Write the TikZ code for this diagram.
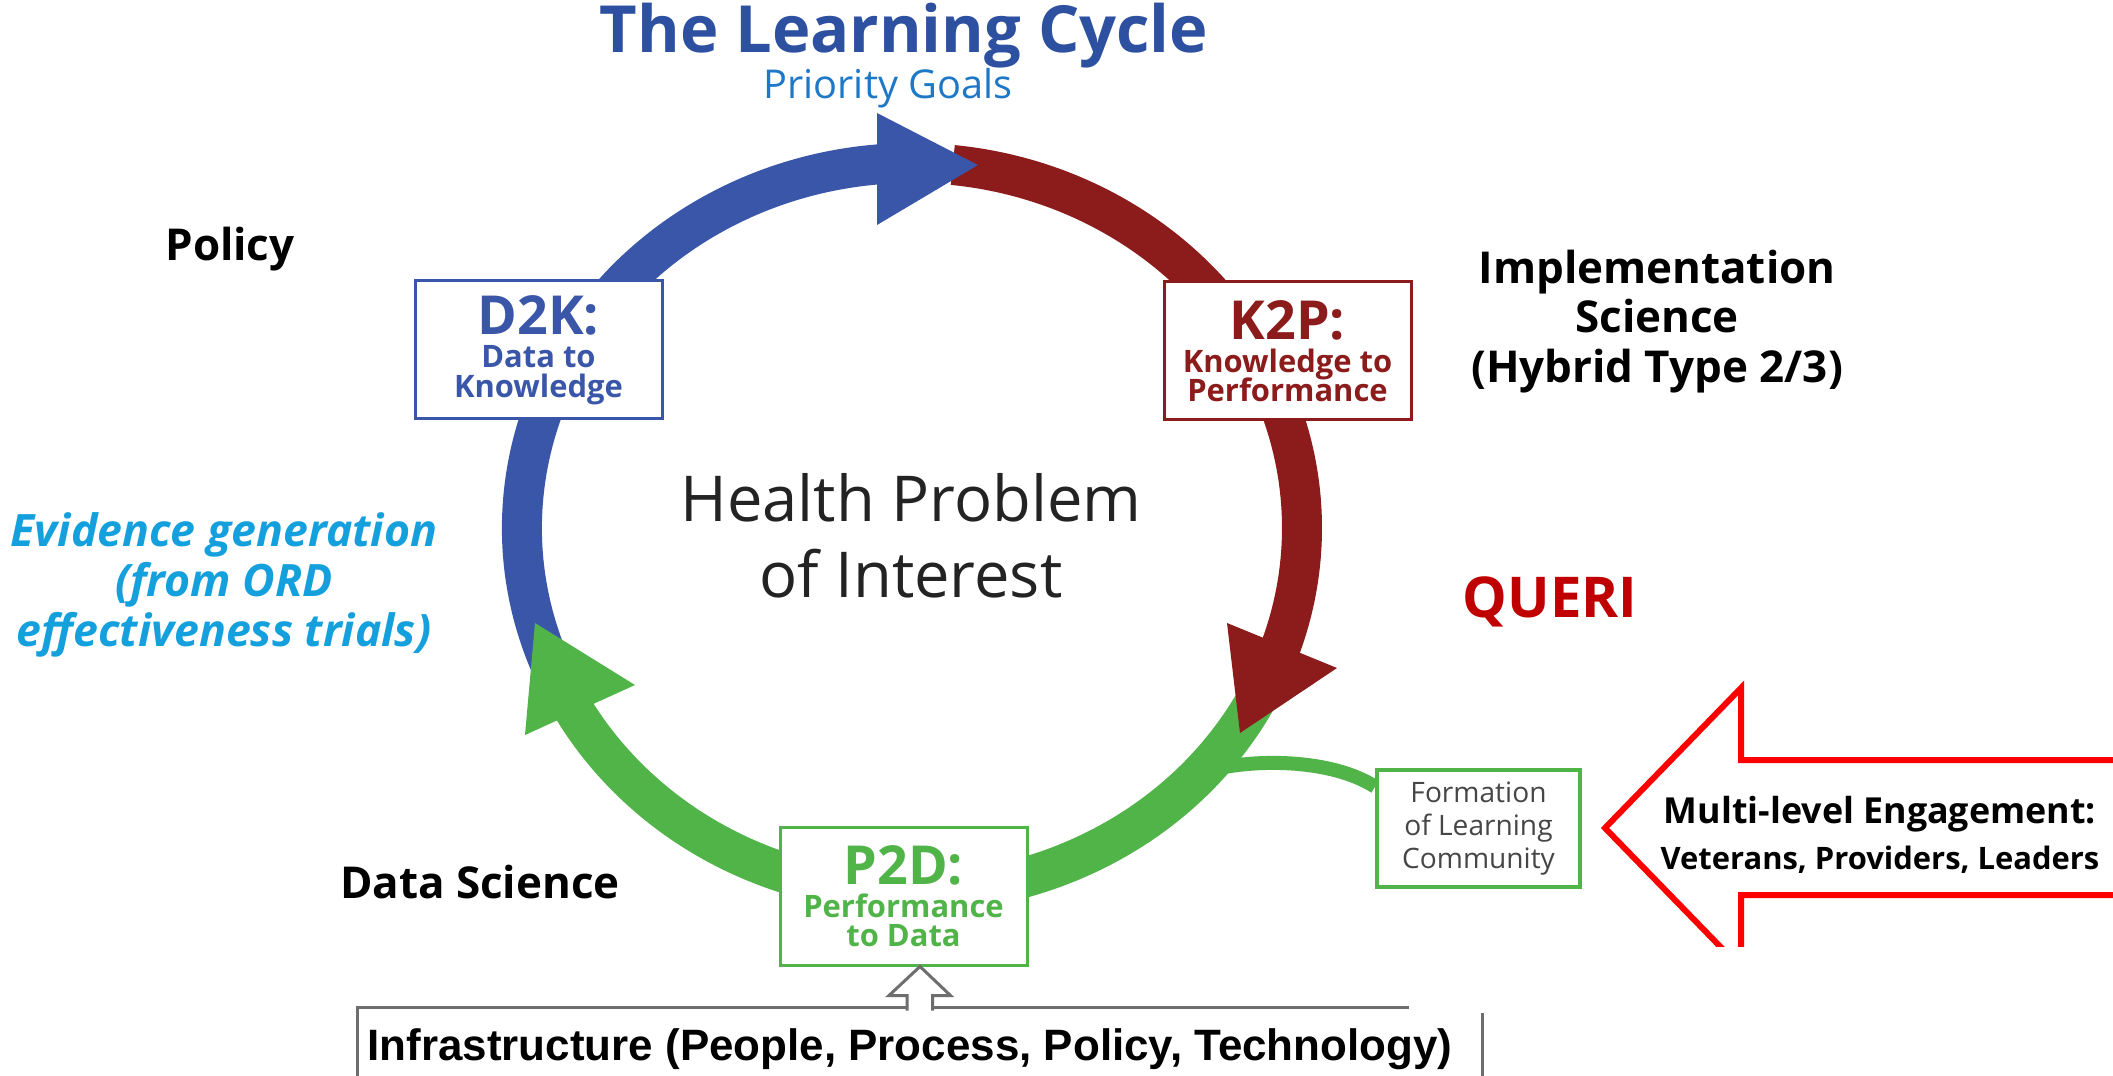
\documentclass[tikz,border=0pt]{standalone}
\usepackage{fontspec}
\setmainfont{Open Sans}
\newfontfamily\arialfont{Liberation Sans}
\lineskiplimit=-50pt

\definecolor{cycblue}{RGB}{58,86,168}
\definecolor{cycred}{RGB}{140,27,27}
\definecolor{cycgreen}{RGB}{80,180,72}
\definecolor{titleblue}{RGB}{46,80,160}
\definecolor{goalblue}{RGB}{30,120,200}
\definecolor{evblue}{RGB}{20,160,220}
\definecolor{queried}{RGB}{192,0,0}
\definecolor{framegray}{RGB}{110,110,110}
\definecolor{formgray}{RGB}{70,70,70}
\definecolor{healthgray}{RGB}{35,35,35}

\tikzset{
  ring/.style={line width=4mm},
  stagebox/.style={draw, line width=0.3mm, fill=white, minimum width=24.7mm,
    minimum height=13.8mm, inner sep=0pt, align=center,
    font=\bfseries\fontsize{8.8}{8.4}\selectfont},
  sidelabel/.style={font=\bfseries\fontsize{12.5}{14.2}\selectfont, align=center, inner sep=0pt},
}

\begin{document}
\begin{tikzpicture}[x=0.1mm,y=-0.1mm]
  \useasboundingbox[fill=white] (0,0) rectangle (2113,1076);

  % title
  \node[anchor=base, text=titleblue, font=\bfseries\fontsize{18.5}{21}\selectfont, inner sep=0pt] (title) at (904,53) {The Learning Cycle};
  \node[anchor=base, text=goalblue, font=\fontsize{11.3}{13}\selectfont, inner sep=0pt] (goals) at (888,99) {Priority Goals};

  % the cycle
  \coordinate (hub) at (912,528);
  \draw[ring, cycblue] ([shift={(155:390 and 365)}]hub) arc[start angle=155, end angle=272, x radius=390, y radius=365];
  \draw[ring, cycred] ([shift={(276:390 and 365)}]hub) arc[start angle=276, end angle=384, x radius=390, y radius=365];
  \draw[ring, cycgreen] ([shift={(25:390 and 365)}]hub) arc[start angle=25, end angle=155, x radius=390, y radius=365];
  \fill[cycblue] (877,113) -- (978,165) -- (877,225) -- cycle;
  \fill[cycred] (1227,623) -- (1337,668) -- (1240,733) -- cycle;
  \fill[cycgreen] (525,735) -- (635,685) -- (535,623) -- cycle;

  \node[align=center, inner sep=0pt, text=healthgray, font=\fontsize{18}{21.6}\selectfont] (problem) at (911,536) {Health Problem\\of Interest};

  \node[stagebox, draw=cycblue, text=cycblue] (d2k) at (538.5,350) {{\fontsize{15.3}{15}\selectfont D2K:}\\[1pt]Data to\\Knowledge};
  \node[stagebox, draw=cycred, text=cycred] (k2p) at (1287.5,351) {{\fontsize{15.3}{15}\selectfont K2P:}\\[1pt]Knowledge to\\Performance};
  \node[stagebox, draw=cycgreen, text=cycgreen] (p2d) at (903.5,896) {{\fontsize{15.3}{15}\selectfont P2D:}\\[1pt]Performance\\to Data};

  % learning community
  \node[draw=cycgreen, line width=0.4mm, fill=white, minimum width=20.3mm, minimum height=11.7mm,
    inner sep=0pt, align=center, text=formgray, font=\fontsize{8}{9.4}\selectfont] (form) at (1478.5,828.5) {Formation\\of Learning\\Community};
  \coordinate (join) at ([shift={(42:390 and 365)}]hub);
  \draw[cycgreen, line width=1.4mm] (join) .. controls (1250,758) and (1330,758) .. (form.158);

  % side labels
  \node[sidelabel, anchor=base] (policy) at (230,261) {Policy};
  \node[sidelabel, anchor=base] (datasci) at (480,898) {Data Science};
  \node[sidelabel] (impl) at (1657,321.5) {Implementation\\Science\\(Hybrid Type 2/3)};
  \node[anchor=base, text=queried, font=\bfseries\fontsize{16}{18}\selectfont] (queri) at (1550,617) {QUERI};
  \node[align=center, inner sep=0pt, text=evblue, font=\bfseries\itshape\fontsize{12.7}{14.2}\selectfont] (evidence) at (224,585) {Evidence generation\\(from ORD\\effectiveness trials)};

  % engagement arrow
  \begin{scope}
    \clip (0,0) rectangle (2113,946);
    \draw[red, line width=0.6mm, fill=white, miter limit=10] (2150,760) -- (1741,760) -- (1741,688) -- (1605,828) -- (1741,968) -- (1741,895) -- (2150,895);
  \end{scope}
  \node[align=center, inner sep=0pt, font=\bfseries\fontsize{8.8}{13.1}\selectfont] (engage) at (1880,835) {{\fontsize{10.2}{12}\selectfont Multi-level Engagement:}\\Veterans, Providers, Leaders};

  % infrastructure
  \node[anchor=base, font=\arialfont\bfseries\fontsize{12.5}{14}\selectfont] (infra) at (910,1060) {Infrastructure (People, Process, Policy, Technology)};
  \draw[framegray, line width=0.3mm] (357,1076) |- (1409,1007);
  \draw[framegray, line width=0.3mm] (1482,1013) -- (1482,1076);
  \draw[framegray, line width=0.3mm, fill=white] ([xshift=1.65mm]p2d.south) ++(12.5,44) -- ++(0,-15) -- ++(18,0) -- ([xshift=1.65mm]p2d.south) -- ++(-31,29) -- ++(18,0) -- ++(0,15);
\end{tikzpicture}
\end{document}
